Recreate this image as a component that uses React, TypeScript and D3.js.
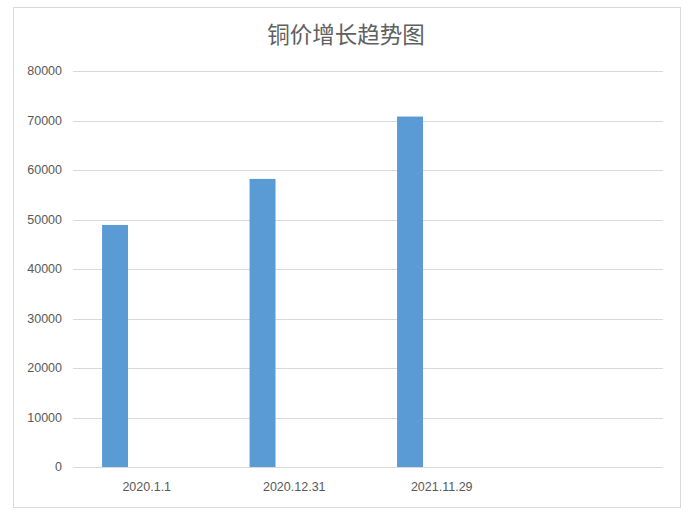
import React from "react";
import * as d3 from "d3";

const title = "铜价增长趋势图";
const categories = ["2020.1.1", "2020.12.31", "2021.11.29", ""];
const values: (number | null)[] = [48900, 58200, 70800, null];
const yTicks = [0, 10000, 20000, 30000, 40000, 50000, 60000, 70000, 80000];

const W = 692;
const H = 519;
const plot = { left: 73, right: 663, top: 71, bottom: 467 };

export default function App() {
  const x = d3.scaleBand<string>().domain(categories.map((c, i) => String(i))).range([plot.left, plot.right]);
  const y = d3.scaleLinear().domain([0, 80000]).range([plot.bottom, plot.top]);
  const bw = x.bandwidth();
  const barOffset = bw * 0.197;
  const barWidth = bw * 0.176;
  const font = "'Liberation Sans', Arial, sans-serif";
  return (
    <svg width={W} height={H} style={{ position: "absolute", left: 0, top: 0, background: "#fff" }}>
      <rect x={13.5} y={7.5} width={667} height={500} fill="#fff" stroke="#d9d9d9" strokeWidth={1} />
      <text x={346} y={33} textAnchor="middle" dominantBaseline="central" fontFamily="'Noto Sans CJK SC', sans-serif" fontSize={22.5} fill="#606060">
        {title}
      </text>
      {yTicks.map((t) => (
        <g key={t}>
          <line x1={plot.left} x2={plot.right} y1={Math.round(y(t)) + 0.5} y2={Math.round(y(t)) + 0.5} stroke="#d9d9d9" strokeWidth={1} />
          <text x={62} y={y(t)} textAnchor="end" dy="0.35em" fontFamily={font} fontSize={12.5} fill="#595959">
            {t}
          </text>
        </g>
      ))}
      {values.map((v, i) =>
        v == null ? null : (
          <rect key={i} x={(x(String(i)) as number) + barOffset} y={y(v)} width={barWidth} height={y(0) - y(v)} fill="#5b9bd5" />
        )
      )}
      {categories.map((c, i) => (
        <text key={i} x={(x(String(i)) as number) + bw / 2} y={487} textAnchor="middle" dy="0.35em" fontFamily={font} fontSize={12.5} fill="#595959">
          {c}
        </text>
      ))}
    </svg>
  );
}
